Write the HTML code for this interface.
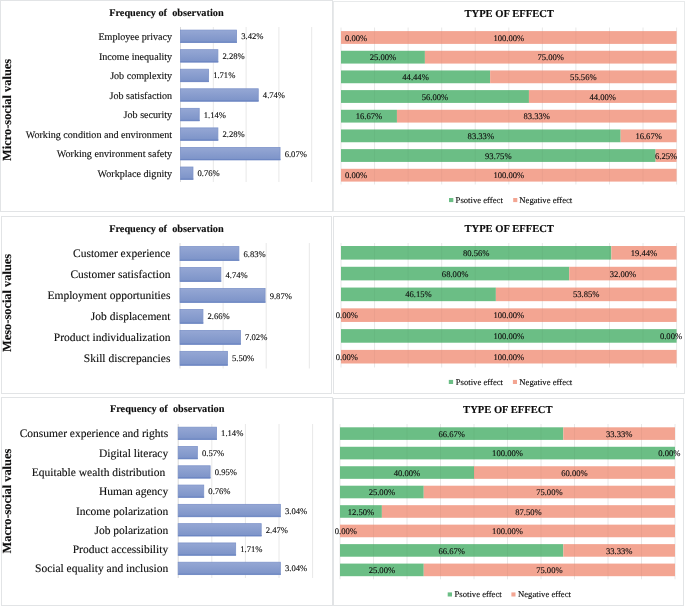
<!DOCTYPE html>
<html><head><meta charset="utf-8"><style>
html,body{margin:0;padding:0;background:#fff;}
body{width:685px;height:606px;position:relative;overflow:hidden;font-family:'Liberation Serif', serif;}
text{white-space:pre;}
svg{text-rendering:geometricPrecision;will-change:transform;}
text{stroke:#0d0d0d;stroke-width:0.12px;}
</style></head><body>
<svg width="685" height="606" viewBox="0 0 685 606" style="position:absolute;left:0;top:0;font-family:'Liberation Serif', serif"><defs><linearGradient id="bg" x1="0" y1="0" x2="0" y2="1"><stop offset="0" stop-color="#95a7d4"/><stop offset="1" stop-color="#7c93c8"/></linearGradient></defs><rect x="0" y="0" width="685" height="606" fill="#ffffff"/><rect x="0.5" y="0.5" width="332" height="211" fill="none" stroke="#e2e4e6" stroke-width="1"/><rect x="333.5" y="1.5" width="351" height="210" fill="none" stroke="#e8eaeb" stroke-width="1"/><rect x="1.5" y="216.5" width="330" height="177" fill="none" stroke="#e2e4e6" stroke-width="1"/><rect x="333.5" y="216.5" width="351" height="177" fill="none" stroke="#e2e4e6" stroke-width="1"/><rect x="1.5" y="397.5" width="331" height="208" fill="none" stroke="#e2e4e6" stroke-width="1"/><rect x="333.5" y="398.5" width="350" height="207" fill="none" stroke="#e2e4e6" stroke-width="1"/><text x="166.40" y="15.90" font-size="10.3" text-anchor="middle" font-weight="bold" fill="#0d0d0d" xml:space="preserve">Frequency of  observation</text><text x="0" y="0" font-size="12.4" text-anchor="middle" font-weight="bold" fill="#0d0d0d" transform="translate(11.00,109.90) rotate(-90)">Micro-social values</text><line x1="180.50" y1="27" x2="180.50" y2="182" stroke="#d9d9d9" stroke-width="1"/><line x1="213.30" y1="27" x2="213.30" y2="182" stroke="#e8e8e8" stroke-width="1"/><line x1="246.10" y1="27" x2="246.10" y2="182" stroke="#e8e8e8" stroke-width="1"/><line x1="278.90" y1="27" x2="278.90" y2="182" stroke="#e8e8e8" stroke-width="1"/><line x1="311.70" y1="27" x2="311.70" y2="182" stroke="#e8e8e8" stroke-width="1"/><rect x="180.50" y="30.10" width="56.09" height="12.5" fill="url(#bg)" stroke="#7d93c9" stroke-width="0.8"/><line x1="180.50" y1="42.10" x2="236.99" y2="42.10" stroke="#6c86c2" stroke-width="1"/><text x="172.10" y="39.95" font-size="10.1" text-anchor="end" font-weight="normal" fill="#0d0d0d" >Employee privacy</text><text x="241.19" y="39.35" font-size="8.6" text-anchor="start" font-weight="normal" fill="#0d0d0d" >3.42%</text><rect x="180.50" y="49.66" width="37.39" height="12.5" fill="url(#bg)" stroke="#7d93c9" stroke-width="0.8"/><line x1="180.50" y1="61.66" x2="218.29" y2="61.66" stroke="#6c86c2" stroke-width="1"/><text x="172.10" y="59.51" font-size="10.1" text-anchor="end" font-weight="normal" fill="#0d0d0d" >Income inequality</text><text x="222.49" y="58.91" font-size="8.6" text-anchor="start" font-weight="normal" fill="#0d0d0d" >2.28%</text><rect x="180.50" y="69.22" width="28.04" height="12.5" fill="url(#bg)" stroke="#7d93c9" stroke-width="0.8"/><line x1="180.50" y1="81.22" x2="208.94" y2="81.22" stroke="#6c86c2" stroke-width="1"/><text x="172.10" y="79.07" font-size="10.1" text-anchor="end" font-weight="normal" fill="#0d0d0d" >Job complexity</text><text x="213.14" y="78.47" font-size="8.6" text-anchor="start" font-weight="normal" fill="#0d0d0d" >1.71%</text><rect x="180.50" y="88.78" width="77.74" height="12.5" fill="url(#bg)" stroke="#7d93c9" stroke-width="0.8"/><line x1="180.50" y1="100.78" x2="258.64" y2="100.78" stroke="#6c86c2" stroke-width="1"/><text x="172.10" y="98.63" font-size="10.1" text-anchor="end" font-weight="normal" fill="#0d0d0d" >Job satisfaction</text><text x="262.84" y="98.03" font-size="8.6" text-anchor="start" font-weight="normal" fill="#0d0d0d" >4.74%</text><rect x="180.50" y="108.34" width="18.70" height="12.5" fill="url(#bg)" stroke="#7d93c9" stroke-width="0.8"/><line x1="180.50" y1="120.34" x2="199.60" y2="120.34" stroke="#6c86c2" stroke-width="1"/><text x="172.10" y="118.19" font-size="10.1" text-anchor="end" font-weight="normal" fill="#0d0d0d" >Job security</text><text x="203.80" y="117.59" font-size="8.6" text-anchor="start" font-weight="normal" fill="#0d0d0d" >1.14%</text><rect x="180.50" y="127.90" width="37.39" height="12.5" fill="url(#bg)" stroke="#7d93c9" stroke-width="0.8"/><line x1="180.50" y1="139.90" x2="218.29" y2="139.90" stroke="#6c86c2" stroke-width="1"/><text x="172.10" y="137.75" font-size="10.1" text-anchor="end" font-weight="normal" fill="#0d0d0d" >Working condition and environment</text><text x="222.49" y="137.15" font-size="8.6" text-anchor="start" font-weight="normal" fill="#0d0d0d" >2.28%</text><rect x="180.50" y="147.46" width="99.55" height="12.5" fill="url(#bg)" stroke="#7d93c9" stroke-width="0.8"/><line x1="180.50" y1="159.46" x2="280.45" y2="159.46" stroke="#6c86c2" stroke-width="1"/><text x="172.10" y="157.31" font-size="10.1" text-anchor="end" font-weight="normal" fill="#0d0d0d" >Working environment safety</text><text x="284.65" y="156.71" font-size="8.6" text-anchor="start" font-weight="normal" fill="#0d0d0d" >6.07%</text><rect x="180.50" y="167.02" width="12.46" height="12.5" fill="url(#bg)" stroke="#7d93c9" stroke-width="0.8"/><line x1="180.50" y1="179.02" x2="193.36" y2="179.02" stroke="#6c86c2" stroke-width="1"/><text x="172.10" y="176.87" font-size="10.1" text-anchor="end" font-weight="normal" fill="#0d0d0d" >Workplace dignity</text><text x="197.56" y="176.27" font-size="8.6" text-anchor="start" font-weight="normal" fill="#0d0d0d" >0.76%</text><text x="509.20" y="17.00" font-size="10.57" text-anchor="middle" font-weight="bold" fill="#0d0d0d" >TYPE OF EFFECT</text><line x1="341.00" y1="27.5" x2="341.00" y2="184.5" stroke="#e8e8e8" stroke-width="1"/><line x1="374.56" y1="27.5" x2="374.56" y2="184.5" stroke="#e8e8e8" stroke-width="1"/><line x1="408.12" y1="27.5" x2="408.12" y2="184.5" stroke="#e8e8e8" stroke-width="1"/><line x1="441.68" y1="27.5" x2="441.68" y2="184.5" stroke="#e8e8e8" stroke-width="1"/><line x1="475.24" y1="27.5" x2="475.24" y2="184.5" stroke="#e8e8e8" stroke-width="1"/><line x1="508.80" y1="27.5" x2="508.80" y2="184.5" stroke="#e8e8e8" stroke-width="1"/><line x1="542.36" y1="27.5" x2="542.36" y2="184.5" stroke="#e8e8e8" stroke-width="1"/><line x1="575.92" y1="27.5" x2="575.92" y2="184.5" stroke="#e8e8e8" stroke-width="1"/><line x1="609.48" y1="27.5" x2="609.48" y2="184.5" stroke="#e8e8e8" stroke-width="1"/><line x1="643.04" y1="27.5" x2="643.04" y2="184.5" stroke="#e8e8e8" stroke-width="1"/><line x1="676.60" y1="27.5" x2="676.60" y2="184.5" stroke="#e8e8e8" stroke-width="1"/><rect x="341.00" y="31.10" width="335.60" height="12.8" fill="#f3a592"/><rect x="341.00" y="50.77" width="83.90" height="12.8" fill="#6bbe85"/><rect x="424.90" y="50.77" width="251.70" height="12.8" fill="#f3a592"/><rect x="341.00" y="70.44" width="149.14" height="12.8" fill="#6bbe85"/><rect x="490.14" y="70.44" width="186.46" height="12.8" fill="#f3a592"/><rect x="341.00" y="90.11" width="187.94" height="12.8" fill="#6bbe85"/><rect x="528.94" y="90.11" width="147.66" height="12.8" fill="#f3a592"/><rect x="341.00" y="109.78" width="55.94" height="12.8" fill="#6bbe85"/><rect x="396.94" y="109.78" width="279.66" height="12.8" fill="#f3a592"/><rect x="341.00" y="129.45" width="279.66" height="12.8" fill="#6bbe85"/><rect x="620.66" y="129.45" width="55.94" height="12.8" fill="#f3a592"/><rect x="341.00" y="149.12" width="314.63" height="12.8" fill="#6bbe85"/><rect x="655.62" y="149.12" width="20.97" height="12.8" fill="#f3a592"/><rect x="341.00" y="168.79" width="335.60" height="12.8" fill="#f3a592"/><line x1="374.56" y1="31.10" x2="374.56" y2="43.90" stroke="rgba(0,0,0,0.035)" stroke-width="1"/><line x1="408.12" y1="31.10" x2="408.12" y2="43.90" stroke="rgba(0,0,0,0.035)" stroke-width="1"/><line x1="441.68" y1="31.10" x2="441.68" y2="43.90" stroke="rgba(0,0,0,0.035)" stroke-width="1"/><line x1="475.24" y1="31.10" x2="475.24" y2="43.90" stroke="rgba(0,0,0,0.035)" stroke-width="1"/><line x1="508.80" y1="31.10" x2="508.80" y2="43.90" stroke="rgba(0,0,0,0.035)" stroke-width="1"/><line x1="542.36" y1="31.10" x2="542.36" y2="43.90" stroke="rgba(0,0,0,0.035)" stroke-width="1"/><line x1="575.92" y1="31.10" x2="575.92" y2="43.90" stroke="rgba(0,0,0,0.035)" stroke-width="1"/><line x1="609.48" y1="31.10" x2="609.48" y2="43.90" stroke="rgba(0,0,0,0.035)" stroke-width="1"/><line x1="643.04" y1="31.10" x2="643.04" y2="43.90" stroke="rgba(0,0,0,0.035)" stroke-width="1"/><line x1="374.56" y1="50.77" x2="374.56" y2="63.57" stroke="rgba(0,0,0,0.035)" stroke-width="1"/><line x1="408.12" y1="50.77" x2="408.12" y2="63.57" stroke="rgba(0,0,0,0.035)" stroke-width="1"/><line x1="441.68" y1="50.77" x2="441.68" y2="63.57" stroke="rgba(0,0,0,0.035)" stroke-width="1"/><line x1="475.24" y1="50.77" x2="475.24" y2="63.57" stroke="rgba(0,0,0,0.035)" stroke-width="1"/><line x1="508.80" y1="50.77" x2="508.80" y2="63.57" stroke="rgba(0,0,0,0.035)" stroke-width="1"/><line x1="542.36" y1="50.77" x2="542.36" y2="63.57" stroke="rgba(0,0,0,0.035)" stroke-width="1"/><line x1="575.92" y1="50.77" x2="575.92" y2="63.57" stroke="rgba(0,0,0,0.035)" stroke-width="1"/><line x1="609.48" y1="50.77" x2="609.48" y2="63.57" stroke="rgba(0,0,0,0.035)" stroke-width="1"/><line x1="643.04" y1="50.77" x2="643.04" y2="63.57" stroke="rgba(0,0,0,0.035)" stroke-width="1"/><line x1="374.56" y1="70.44" x2="374.56" y2="83.24" stroke="rgba(0,0,0,0.035)" stroke-width="1"/><line x1="408.12" y1="70.44" x2="408.12" y2="83.24" stroke="rgba(0,0,0,0.035)" stroke-width="1"/><line x1="441.68" y1="70.44" x2="441.68" y2="83.24" stroke="rgba(0,0,0,0.035)" stroke-width="1"/><line x1="475.24" y1="70.44" x2="475.24" y2="83.24" stroke="rgba(0,0,0,0.035)" stroke-width="1"/><line x1="508.80" y1="70.44" x2="508.80" y2="83.24" stroke="rgba(0,0,0,0.035)" stroke-width="1"/><line x1="542.36" y1="70.44" x2="542.36" y2="83.24" stroke="rgba(0,0,0,0.035)" stroke-width="1"/><line x1="575.92" y1="70.44" x2="575.92" y2="83.24" stroke="rgba(0,0,0,0.035)" stroke-width="1"/><line x1="609.48" y1="70.44" x2="609.48" y2="83.24" stroke="rgba(0,0,0,0.035)" stroke-width="1"/><line x1="643.04" y1="70.44" x2="643.04" y2="83.24" stroke="rgba(0,0,0,0.035)" stroke-width="1"/><line x1="374.56" y1="90.11" x2="374.56" y2="102.91" stroke="rgba(0,0,0,0.035)" stroke-width="1"/><line x1="408.12" y1="90.11" x2="408.12" y2="102.91" stroke="rgba(0,0,0,0.035)" stroke-width="1"/><line x1="441.68" y1="90.11" x2="441.68" y2="102.91" stroke="rgba(0,0,0,0.035)" stroke-width="1"/><line x1="475.24" y1="90.11" x2="475.24" y2="102.91" stroke="rgba(0,0,0,0.035)" stroke-width="1"/><line x1="508.80" y1="90.11" x2="508.80" y2="102.91" stroke="rgba(0,0,0,0.035)" stroke-width="1"/><line x1="542.36" y1="90.11" x2="542.36" y2="102.91" stroke="rgba(0,0,0,0.035)" stroke-width="1"/><line x1="575.92" y1="90.11" x2="575.92" y2="102.91" stroke="rgba(0,0,0,0.035)" stroke-width="1"/><line x1="609.48" y1="90.11" x2="609.48" y2="102.91" stroke="rgba(0,0,0,0.035)" stroke-width="1"/><line x1="643.04" y1="90.11" x2="643.04" y2="102.91" stroke="rgba(0,0,0,0.035)" stroke-width="1"/><line x1="374.56" y1="109.78" x2="374.56" y2="122.58" stroke="rgba(0,0,0,0.035)" stroke-width="1"/><line x1="408.12" y1="109.78" x2="408.12" y2="122.58" stroke="rgba(0,0,0,0.035)" stroke-width="1"/><line x1="441.68" y1="109.78" x2="441.68" y2="122.58" stroke="rgba(0,0,0,0.035)" stroke-width="1"/><line x1="475.24" y1="109.78" x2="475.24" y2="122.58" stroke="rgba(0,0,0,0.035)" stroke-width="1"/><line x1="508.80" y1="109.78" x2="508.80" y2="122.58" stroke="rgba(0,0,0,0.035)" stroke-width="1"/><line x1="542.36" y1="109.78" x2="542.36" y2="122.58" stroke="rgba(0,0,0,0.035)" stroke-width="1"/><line x1="575.92" y1="109.78" x2="575.92" y2="122.58" stroke="rgba(0,0,0,0.035)" stroke-width="1"/><line x1="609.48" y1="109.78" x2="609.48" y2="122.58" stroke="rgba(0,0,0,0.035)" stroke-width="1"/><line x1="643.04" y1="109.78" x2="643.04" y2="122.58" stroke="rgba(0,0,0,0.035)" stroke-width="1"/><line x1="374.56" y1="129.45" x2="374.56" y2="142.25" stroke="rgba(0,0,0,0.035)" stroke-width="1"/><line x1="408.12" y1="129.45" x2="408.12" y2="142.25" stroke="rgba(0,0,0,0.035)" stroke-width="1"/><line x1="441.68" y1="129.45" x2="441.68" y2="142.25" stroke="rgba(0,0,0,0.035)" stroke-width="1"/><line x1="475.24" y1="129.45" x2="475.24" y2="142.25" stroke="rgba(0,0,0,0.035)" stroke-width="1"/><line x1="508.80" y1="129.45" x2="508.80" y2="142.25" stroke="rgba(0,0,0,0.035)" stroke-width="1"/><line x1="542.36" y1="129.45" x2="542.36" y2="142.25" stroke="rgba(0,0,0,0.035)" stroke-width="1"/><line x1="575.92" y1="129.45" x2="575.92" y2="142.25" stroke="rgba(0,0,0,0.035)" stroke-width="1"/><line x1="609.48" y1="129.45" x2="609.48" y2="142.25" stroke="rgba(0,0,0,0.035)" stroke-width="1"/><line x1="643.04" y1="129.45" x2="643.04" y2="142.25" stroke="rgba(0,0,0,0.035)" stroke-width="1"/><line x1="374.56" y1="149.12" x2="374.56" y2="161.92" stroke="rgba(0,0,0,0.035)" stroke-width="1"/><line x1="408.12" y1="149.12" x2="408.12" y2="161.92" stroke="rgba(0,0,0,0.035)" stroke-width="1"/><line x1="441.68" y1="149.12" x2="441.68" y2="161.92" stroke="rgba(0,0,0,0.035)" stroke-width="1"/><line x1="475.24" y1="149.12" x2="475.24" y2="161.92" stroke="rgba(0,0,0,0.035)" stroke-width="1"/><line x1="508.80" y1="149.12" x2="508.80" y2="161.92" stroke="rgba(0,0,0,0.035)" stroke-width="1"/><line x1="542.36" y1="149.12" x2="542.36" y2="161.92" stroke="rgba(0,0,0,0.035)" stroke-width="1"/><line x1="575.92" y1="149.12" x2="575.92" y2="161.92" stroke="rgba(0,0,0,0.035)" stroke-width="1"/><line x1="609.48" y1="149.12" x2="609.48" y2="161.92" stroke="rgba(0,0,0,0.035)" stroke-width="1"/><line x1="643.04" y1="149.12" x2="643.04" y2="161.92" stroke="rgba(0,0,0,0.035)" stroke-width="1"/><line x1="374.56" y1="168.79" x2="374.56" y2="181.59" stroke="rgba(0,0,0,0.035)" stroke-width="1"/><line x1="408.12" y1="168.79" x2="408.12" y2="181.59" stroke="rgba(0,0,0,0.035)" stroke-width="1"/><line x1="441.68" y1="168.79" x2="441.68" y2="181.59" stroke="rgba(0,0,0,0.035)" stroke-width="1"/><line x1="475.24" y1="168.79" x2="475.24" y2="181.59" stroke="rgba(0,0,0,0.035)" stroke-width="1"/><line x1="508.80" y1="168.79" x2="508.80" y2="181.59" stroke="rgba(0,0,0,0.035)" stroke-width="1"/><line x1="542.36" y1="168.79" x2="542.36" y2="181.59" stroke="rgba(0,0,0,0.035)" stroke-width="1"/><line x1="575.92" y1="168.79" x2="575.92" y2="181.59" stroke="rgba(0,0,0,0.035)" stroke-width="1"/><line x1="609.48" y1="168.79" x2="609.48" y2="181.59" stroke="rgba(0,0,0,0.035)" stroke-width="1"/><line x1="643.04" y1="168.79" x2="643.04" y2="181.59" stroke="rgba(0,0,0,0.035)" stroke-width="1"/><text x="345.00" y="40.60" font-size="8.6" text-anchor="start" font-weight="normal" fill="#0d0d0d" >0.00%</text><text x="508.80" y="40.60" font-size="8.6" text-anchor="middle" font-weight="normal" fill="#0d0d0d" >100.00%</text><text x="382.95" y="60.27" font-size="8.6" text-anchor="middle" font-weight="normal" fill="#0d0d0d" >25.00%</text><text x="550.75" y="60.27" font-size="8.6" text-anchor="middle" font-weight="normal" fill="#0d0d0d" >75.00%</text><text x="415.57" y="79.94" font-size="8.6" text-anchor="middle" font-weight="normal" fill="#0d0d0d" >44.44%</text><text x="583.37" y="79.94" font-size="8.6" text-anchor="middle" font-weight="normal" fill="#0d0d0d" >55.56%</text><text x="434.97" y="99.61" font-size="8.6" text-anchor="middle" font-weight="normal" fill="#0d0d0d" >56.00%</text><text x="602.77" y="99.61" font-size="8.6" text-anchor="middle" font-weight="normal" fill="#0d0d0d" >44.00%</text><text x="368.97" y="119.28" font-size="8.6" text-anchor="middle" font-weight="normal" fill="#0d0d0d" >16.67%</text><text x="536.77" y="119.28" font-size="8.6" text-anchor="middle" font-weight="normal" fill="#0d0d0d" >83.33%</text><text x="480.83" y="138.95" font-size="8.6" text-anchor="middle" font-weight="normal" fill="#0d0d0d" >83.33%</text><text x="648.63" y="138.95" font-size="8.6" text-anchor="middle" font-weight="normal" fill="#0d0d0d" >16.67%</text><text x="498.31" y="158.62" font-size="8.6" text-anchor="middle" font-weight="normal" fill="#0d0d0d" >93.75%</text><text x="666.11" y="158.62" font-size="8.6" text-anchor="middle" font-weight="normal" fill="#0d0d0d" >6.25%</text><text x="345.00" y="178.29" font-size="8.6" text-anchor="start" font-weight="normal" fill="#0d0d0d" >0.00%</text><text x="508.80" y="178.29" font-size="8.6" text-anchor="middle" font-weight="normal" fill="#0d0d0d" >100.00%</text><rect x="449" y="198" width="4.3" height="4.1" fill="#6bbe85"/><text x="455.60" y="202.80" font-size="8.67" text-anchor="start" font-weight="normal" fill="#0d0d0d" >Psotive effect</text><rect x="513.2" y="198" width="4.1" height="4.1" fill="#f3a592"/><text x="519.30" y="202.80" font-size="8.67" text-anchor="start" font-weight="normal" fill="#0d0d0d" >Negative effect</text><text x="166.40" y="231.80" font-size="10.3" text-anchor="middle" font-weight="bold" fill="#0d0d0d" xml:space="preserve">Frequency of  observation</text><text x="0" y="0" font-size="12.4" text-anchor="middle" font-weight="bold" fill="#0d0d0d" transform="translate(11.00,302.90) rotate(-90)">Meso-social values</text><line x1="180.00" y1="243" x2="180.00" y2="368.5" stroke="#d9d9d9" stroke-width="1"/><line x1="223.10" y1="243" x2="223.10" y2="368.5" stroke="#e8e8e8" stroke-width="1"/><line x1="266.20" y1="243" x2="266.20" y2="368.5" stroke="#e8e8e8" stroke-width="1"/><line x1="309.30" y1="243" x2="309.30" y2="368.5" stroke="#e8e8e8" stroke-width="1"/><rect x="180.00" y="246.60" width="58.87" height="14" fill="url(#bg)" stroke="#7d93c9" stroke-width="0.8"/><line x1="180.00" y1="260.10" x2="239.27" y2="260.10" stroke="#6c86c2" stroke-width="1"/><text x="170.40" y="257.00" font-size="11.5" text-anchor="end" font-weight="normal" fill="#0d0d0d" >Customer experience</text><text x="243.47" y="256.60" font-size="8.6" text-anchor="start" font-weight="normal" fill="#0d0d0d" >6.83%</text><rect x="180.00" y="267.55" width="40.86" height="14" fill="url(#bg)" stroke="#7d93c9" stroke-width="0.8"/><line x1="180.00" y1="281.05" x2="221.26" y2="281.05" stroke="#6c86c2" stroke-width="1"/><text x="170.40" y="277.95" font-size="11.5" text-anchor="end" font-weight="normal" fill="#0d0d0d" >Customer satisfaction</text><text x="225.46" y="277.55" font-size="8.6" text-anchor="start" font-weight="normal" fill="#0d0d0d" >4.74%</text><rect x="180.00" y="288.50" width="85.08" height="14" fill="url(#bg)" stroke="#7d93c9" stroke-width="0.8"/><line x1="180.00" y1="302.00" x2="265.48" y2="302.00" stroke="#6c86c2" stroke-width="1"/><text x="170.40" y="298.90" font-size="11.5" text-anchor="end" font-weight="normal" fill="#0d0d0d" >Employment opportunities</text><text x="269.68" y="298.50" font-size="8.6" text-anchor="start" font-weight="normal" fill="#0d0d0d" >9.87%</text><rect x="180.00" y="309.45" width="22.93" height="14" fill="url(#bg)" stroke="#7d93c9" stroke-width="0.8"/><line x1="180.00" y1="322.95" x2="203.33" y2="322.95" stroke="#6c86c2" stroke-width="1"/><text x="170.40" y="319.85" font-size="11.5" text-anchor="end" font-weight="normal" fill="#0d0d0d" >Job displacement</text><text x="207.53" y="319.45" font-size="8.6" text-anchor="start" font-weight="normal" fill="#0d0d0d" >2.66%</text><rect x="180.00" y="330.40" width="60.51" height="14" fill="url(#bg)" stroke="#7d93c9" stroke-width="0.8"/><line x1="180.00" y1="343.90" x2="240.91" y2="343.90" stroke="#6c86c2" stroke-width="1"/><text x="170.40" y="340.80" font-size="11.5" text-anchor="end" font-weight="normal" fill="#0d0d0d" >Product individualization</text><text x="245.11" y="340.40" font-size="8.6" text-anchor="start" font-weight="normal" fill="#0d0d0d" >7.02%</text><rect x="180.00" y="351.35" width="47.41" height="14" fill="url(#bg)" stroke="#7d93c9" stroke-width="0.8"/><line x1="180.00" y1="364.85" x2="227.81" y2="364.85" stroke="#6c86c2" stroke-width="1"/><text x="170.40" y="361.75" font-size="11.5" text-anchor="end" font-weight="normal" fill="#0d0d0d" >Skill discrepancies</text><text x="232.01" y="361.35" font-size="8.6" text-anchor="start" font-weight="normal" fill="#0d0d0d" >5.50%</text><text x="509.20" y="232.00" font-size="10.57" text-anchor="middle" font-weight="bold" fill="#0d0d0d" >TYPE OF EFFECT</text><line x1="341.00" y1="243" x2="341.00" y2="367.5" stroke="#e8e8e8" stroke-width="1"/><line x1="374.56" y1="243" x2="374.56" y2="367.5" stroke="#e8e8e8" stroke-width="1"/><line x1="408.12" y1="243" x2="408.12" y2="367.5" stroke="#e8e8e8" stroke-width="1"/><line x1="441.68" y1="243" x2="441.68" y2="367.5" stroke="#e8e8e8" stroke-width="1"/><line x1="475.24" y1="243" x2="475.24" y2="367.5" stroke="#e8e8e8" stroke-width="1"/><line x1="508.80" y1="243" x2="508.80" y2="367.5" stroke="#e8e8e8" stroke-width="1"/><line x1="542.36" y1="243" x2="542.36" y2="367.5" stroke="#e8e8e8" stroke-width="1"/><line x1="575.92" y1="243" x2="575.92" y2="367.5" stroke="#e8e8e8" stroke-width="1"/><line x1="609.48" y1="243" x2="609.48" y2="367.5" stroke="#e8e8e8" stroke-width="1"/><line x1="643.04" y1="243" x2="643.04" y2="367.5" stroke="#e8e8e8" stroke-width="1"/><line x1="676.60" y1="243" x2="676.60" y2="367.5" stroke="#e8e8e8" stroke-width="1"/><rect x="341.00" y="246.00" width="270.36" height="13.6" fill="#6bbe85"/><rect x="611.36" y="246.00" width="65.24" height="13.6" fill="#f3a592"/><rect x="341.00" y="266.78" width="228.21" height="13.6" fill="#6bbe85"/><rect x="569.21" y="266.78" width="107.39" height="13.6" fill="#f3a592"/><rect x="341.00" y="287.56" width="154.88" height="13.6" fill="#6bbe85"/><rect x="495.88" y="287.56" width="180.72" height="13.6" fill="#f3a592"/><rect x="341.00" y="308.34" width="335.60" height="13.6" fill="#f3a592"/><rect x="341.00" y="329.12" width="335.60" height="13.6" fill="#6bbe85"/><rect x="341.00" y="349.90" width="335.60" height="13.6" fill="#f3a592"/><line x1="374.56" y1="246.00" x2="374.56" y2="259.60" stroke="rgba(0,0,0,0.035)" stroke-width="1"/><line x1="408.12" y1="246.00" x2="408.12" y2="259.60" stroke="rgba(0,0,0,0.035)" stroke-width="1"/><line x1="441.68" y1="246.00" x2="441.68" y2="259.60" stroke="rgba(0,0,0,0.035)" stroke-width="1"/><line x1="475.24" y1="246.00" x2="475.24" y2="259.60" stroke="rgba(0,0,0,0.035)" stroke-width="1"/><line x1="508.80" y1="246.00" x2="508.80" y2="259.60" stroke="rgba(0,0,0,0.035)" stroke-width="1"/><line x1="542.36" y1="246.00" x2="542.36" y2="259.60" stroke="rgba(0,0,0,0.035)" stroke-width="1"/><line x1="575.92" y1="246.00" x2="575.92" y2="259.60" stroke="rgba(0,0,0,0.035)" stroke-width="1"/><line x1="609.48" y1="246.00" x2="609.48" y2="259.60" stroke="rgba(0,0,0,0.035)" stroke-width="1"/><line x1="643.04" y1="246.00" x2="643.04" y2="259.60" stroke="rgba(0,0,0,0.035)" stroke-width="1"/><line x1="374.56" y1="266.78" x2="374.56" y2="280.38" stroke="rgba(0,0,0,0.035)" stroke-width="1"/><line x1="408.12" y1="266.78" x2="408.12" y2="280.38" stroke="rgba(0,0,0,0.035)" stroke-width="1"/><line x1="441.68" y1="266.78" x2="441.68" y2="280.38" stroke="rgba(0,0,0,0.035)" stroke-width="1"/><line x1="475.24" y1="266.78" x2="475.24" y2="280.38" stroke="rgba(0,0,0,0.035)" stroke-width="1"/><line x1="508.80" y1="266.78" x2="508.80" y2="280.38" stroke="rgba(0,0,0,0.035)" stroke-width="1"/><line x1="542.36" y1="266.78" x2="542.36" y2="280.38" stroke="rgba(0,0,0,0.035)" stroke-width="1"/><line x1="575.92" y1="266.78" x2="575.92" y2="280.38" stroke="rgba(0,0,0,0.035)" stroke-width="1"/><line x1="609.48" y1="266.78" x2="609.48" y2="280.38" stroke="rgba(0,0,0,0.035)" stroke-width="1"/><line x1="643.04" y1="266.78" x2="643.04" y2="280.38" stroke="rgba(0,0,0,0.035)" stroke-width="1"/><line x1="374.56" y1="287.56" x2="374.56" y2="301.16" stroke="rgba(0,0,0,0.035)" stroke-width="1"/><line x1="408.12" y1="287.56" x2="408.12" y2="301.16" stroke="rgba(0,0,0,0.035)" stroke-width="1"/><line x1="441.68" y1="287.56" x2="441.68" y2="301.16" stroke="rgba(0,0,0,0.035)" stroke-width="1"/><line x1="475.24" y1="287.56" x2="475.24" y2="301.16" stroke="rgba(0,0,0,0.035)" stroke-width="1"/><line x1="508.80" y1="287.56" x2="508.80" y2="301.16" stroke="rgba(0,0,0,0.035)" stroke-width="1"/><line x1="542.36" y1="287.56" x2="542.36" y2="301.16" stroke="rgba(0,0,0,0.035)" stroke-width="1"/><line x1="575.92" y1="287.56" x2="575.92" y2="301.16" stroke="rgba(0,0,0,0.035)" stroke-width="1"/><line x1="609.48" y1="287.56" x2="609.48" y2="301.16" stroke="rgba(0,0,0,0.035)" stroke-width="1"/><line x1="643.04" y1="287.56" x2="643.04" y2="301.16" stroke="rgba(0,0,0,0.035)" stroke-width="1"/><line x1="374.56" y1="308.34" x2="374.56" y2="321.94" stroke="rgba(0,0,0,0.035)" stroke-width="1"/><line x1="408.12" y1="308.34" x2="408.12" y2="321.94" stroke="rgba(0,0,0,0.035)" stroke-width="1"/><line x1="441.68" y1="308.34" x2="441.68" y2="321.94" stroke="rgba(0,0,0,0.035)" stroke-width="1"/><line x1="475.24" y1="308.34" x2="475.24" y2="321.94" stroke="rgba(0,0,0,0.035)" stroke-width="1"/><line x1="508.80" y1="308.34" x2="508.80" y2="321.94" stroke="rgba(0,0,0,0.035)" stroke-width="1"/><line x1="542.36" y1="308.34" x2="542.36" y2="321.94" stroke="rgba(0,0,0,0.035)" stroke-width="1"/><line x1="575.92" y1="308.34" x2="575.92" y2="321.94" stroke="rgba(0,0,0,0.035)" stroke-width="1"/><line x1="609.48" y1="308.34" x2="609.48" y2="321.94" stroke="rgba(0,0,0,0.035)" stroke-width="1"/><line x1="643.04" y1="308.34" x2="643.04" y2="321.94" stroke="rgba(0,0,0,0.035)" stroke-width="1"/><line x1="374.56" y1="329.12" x2="374.56" y2="342.72" stroke="rgba(0,0,0,0.035)" stroke-width="1"/><line x1="408.12" y1="329.12" x2="408.12" y2="342.72" stroke="rgba(0,0,0,0.035)" stroke-width="1"/><line x1="441.68" y1="329.12" x2="441.68" y2="342.72" stroke="rgba(0,0,0,0.035)" stroke-width="1"/><line x1="475.24" y1="329.12" x2="475.24" y2="342.72" stroke="rgba(0,0,0,0.035)" stroke-width="1"/><line x1="508.80" y1="329.12" x2="508.80" y2="342.72" stroke="rgba(0,0,0,0.035)" stroke-width="1"/><line x1="542.36" y1="329.12" x2="542.36" y2="342.72" stroke="rgba(0,0,0,0.035)" stroke-width="1"/><line x1="575.92" y1="329.12" x2="575.92" y2="342.72" stroke="rgba(0,0,0,0.035)" stroke-width="1"/><line x1="609.48" y1="329.12" x2="609.48" y2="342.72" stroke="rgba(0,0,0,0.035)" stroke-width="1"/><line x1="643.04" y1="329.12" x2="643.04" y2="342.72" stroke="rgba(0,0,0,0.035)" stroke-width="1"/><line x1="374.56" y1="349.90" x2="374.56" y2="363.50" stroke="rgba(0,0,0,0.035)" stroke-width="1"/><line x1="408.12" y1="349.90" x2="408.12" y2="363.50" stroke="rgba(0,0,0,0.035)" stroke-width="1"/><line x1="441.68" y1="349.90" x2="441.68" y2="363.50" stroke="rgba(0,0,0,0.035)" stroke-width="1"/><line x1="475.24" y1="349.90" x2="475.24" y2="363.50" stroke="rgba(0,0,0,0.035)" stroke-width="1"/><line x1="508.80" y1="349.90" x2="508.80" y2="363.50" stroke="rgba(0,0,0,0.035)" stroke-width="1"/><line x1="542.36" y1="349.90" x2="542.36" y2="363.50" stroke="rgba(0,0,0,0.035)" stroke-width="1"/><line x1="575.92" y1="349.90" x2="575.92" y2="363.50" stroke="rgba(0,0,0,0.035)" stroke-width="1"/><line x1="609.48" y1="349.90" x2="609.48" y2="363.50" stroke="rgba(0,0,0,0.035)" stroke-width="1"/><line x1="643.04" y1="349.90" x2="643.04" y2="363.50" stroke="rgba(0,0,0,0.035)" stroke-width="1"/><text x="476.18" y="255.90" font-size="8.6" text-anchor="middle" font-weight="normal" fill="#0d0d0d" >80.56%</text><text x="643.98" y="255.90" font-size="8.6" text-anchor="middle" font-weight="normal" fill="#0d0d0d" >19.44%</text><text x="455.10" y="276.68" font-size="8.6" text-anchor="middle" font-weight="normal" fill="#0d0d0d" >68.00%</text><text x="622.90" y="276.68" font-size="8.6" text-anchor="middle" font-weight="normal" fill="#0d0d0d" >32.00%</text><text x="418.44" y="297.46" font-size="8.6" text-anchor="middle" font-weight="normal" fill="#0d0d0d" >46.15%</text><text x="586.24" y="297.46" font-size="8.6" text-anchor="middle" font-weight="normal" fill="#0d0d0d" >53.85%</text><text x="346.80" y="318.24" font-size="8.6" text-anchor="middle" font-weight="normal" fill="#0d0d0d" >0.00%</text><text x="508.80" y="318.24" font-size="8.6" text-anchor="middle" font-weight="normal" fill="#0d0d0d" >100.00%</text><text x="508.80" y="339.02" font-size="8.6" text-anchor="middle" font-weight="normal" fill="#0d0d0d" >100.00%</text><text x="671.00" y="339.02" font-size="8.6" text-anchor="middle" font-weight="normal" fill="#0d0d0d" >0.00%</text><text x="346.80" y="359.80" font-size="8.6" text-anchor="middle" font-weight="normal" fill="#0d0d0d" >0.00%</text><text x="508.80" y="359.80" font-size="8.6" text-anchor="middle" font-weight="normal" fill="#0d0d0d" >100.00%</text><rect x="448.8" y="379.9" width="4.3" height="4.1" fill="#6bbe85"/><text x="455.80" y="384.90" font-size="8.67" text-anchor="start" font-weight="normal" fill="#0d0d0d" >Psotive effect</text><rect x="512.9" y="379.9" width="4.1" height="4.1" fill="#f3a592"/><text x="519.30" y="384.90" font-size="8.67" text-anchor="start" font-weight="normal" fill="#0d0d0d" >Negative effect</text><text x="167.20" y="412.40" font-size="10.3" text-anchor="middle" font-weight="bold" fill="#0d0d0d" xml:space="preserve">Frequency of  observation</text><text x="0" y="0" font-size="12.4" text-anchor="middle" font-weight="bold" fill="#0d0d0d" transform="translate(11.00,501.10) rotate(-90)">Macro-social values</text><line x1="178.20" y1="424" x2="178.20" y2="578" stroke="#d9d9d9" stroke-width="1"/><line x1="211.80" y1="424" x2="211.80" y2="578" stroke="#e8e8e8" stroke-width="1"/><line x1="245.40" y1="424" x2="245.40" y2="578" stroke="#e8e8e8" stroke-width="1"/><line x1="279.00" y1="424" x2="279.00" y2="578" stroke="#e8e8e8" stroke-width="1"/><line x1="312.60" y1="424" x2="312.60" y2="578" stroke="#e8e8e8" stroke-width="1"/><rect x="178.20" y="427.20" width="38.30" height="12.4" fill="url(#bg)" stroke="#7d93c9" stroke-width="0.8"/><line x1="178.20" y1="439.10" x2="216.90" y2="439.10" stroke="#6c86c2" stroke-width="1"/><text x="168.20" y="437.40" font-size="11.5" text-anchor="end" font-weight="normal" fill="#0d0d0d" >Consumer experience and rights</text><text x="221.10" y="436.40" font-size="8.6" text-anchor="start" font-weight="normal" fill="#0d0d0d" >1.14%</text><rect x="178.20" y="446.49" width="19.15" height="12.4" fill="url(#bg)" stroke="#7d93c9" stroke-width="0.8"/><line x1="178.20" y1="458.39" x2="197.75" y2="458.39" stroke="#6c86c2" stroke-width="1"/><text x="168.20" y="456.69" font-size="11.5" text-anchor="end" font-weight="normal" fill="#0d0d0d" >Digital literacy</text><text x="201.95" y="455.69" font-size="8.6" text-anchor="start" font-weight="normal" fill="#0d0d0d" >0.57%</text><rect x="178.20" y="465.78" width="31.92" height="12.4" fill="url(#bg)" stroke="#7d93c9" stroke-width="0.8"/><line x1="178.20" y1="477.68" x2="210.52" y2="477.68" stroke="#6c86c2" stroke-width="1"/><text x="168.20" y="475.98" font-size="11.5" text-anchor="end" font-weight="normal" fill="#0d0d0d" >Equitable wealth distribution </text><text x="214.72" y="474.98" font-size="8.6" text-anchor="start" font-weight="normal" fill="#0d0d0d" >0.95%</text><rect x="178.20" y="485.07" width="25.54" height="12.4" fill="url(#bg)" stroke="#7d93c9" stroke-width="0.8"/><line x1="178.20" y1="496.97" x2="204.14" y2="496.97" stroke="#6c86c2" stroke-width="1"/><text x="168.20" y="495.27" font-size="11.5" text-anchor="end" font-weight="normal" fill="#0d0d0d" >Human agency</text><text x="208.34" y="494.27" font-size="8.6" text-anchor="start" font-weight="normal" fill="#0d0d0d" >0.76%</text><rect x="178.20" y="504.36" width="102.14" height="12.4" fill="url(#bg)" stroke="#7d93c9" stroke-width="0.8"/><line x1="178.20" y1="516.26" x2="280.74" y2="516.26" stroke="#6c86c2" stroke-width="1"/><text x="168.20" y="514.56" font-size="11.5" text-anchor="end" font-weight="normal" fill="#0d0d0d" >Income polarization</text><text x="284.94" y="513.56" font-size="8.6" text-anchor="start" font-weight="normal" fill="#0d0d0d" >3.04%</text><rect x="178.20" y="523.65" width="82.99" height="12.4" fill="url(#bg)" stroke="#7d93c9" stroke-width="0.8"/><line x1="178.20" y1="535.55" x2="261.59" y2="535.55" stroke="#6c86c2" stroke-width="1"/><text x="168.20" y="533.85" font-size="11.5" text-anchor="end" font-weight="normal" fill="#0d0d0d" >Job polarization</text><text x="265.79" y="532.85" font-size="8.6" text-anchor="start" font-weight="normal" fill="#0d0d0d" >2.47%</text><rect x="178.20" y="542.94" width="57.46" height="12.4" fill="url(#bg)" stroke="#7d93c9" stroke-width="0.8"/><line x1="178.20" y1="554.84" x2="236.06" y2="554.84" stroke="#6c86c2" stroke-width="1"/><text x="168.20" y="553.14" font-size="11.5" text-anchor="end" font-weight="normal" fill="#0d0d0d" >Product accessibility</text><text x="240.26" y="552.14" font-size="8.6" text-anchor="start" font-weight="normal" fill="#0d0d0d" >1.71%</text><rect x="178.20" y="562.23" width="102.14" height="12.4" fill="url(#bg)" stroke="#7d93c9" stroke-width="0.8"/><line x1="178.20" y1="574.13" x2="280.74" y2="574.13" stroke="#6c86c2" stroke-width="1"/><text x="168.20" y="572.43" font-size="11.5" text-anchor="end" font-weight="normal" fill="#0d0d0d" >Social equality and inclusion</text><text x="284.94" y="571.43" font-size="8.6" text-anchor="start" font-weight="normal" fill="#0d0d0d" >3.04%</text><text x="507.80" y="413.00" font-size="10.57" text-anchor="middle" font-weight="bold" fill="#0d0d0d" >TYPE OF EFFECT</text><line x1="340.00" y1="424" x2="340.00" y2="579.3" stroke="#e8e8e8" stroke-width="1"/><line x1="373.50" y1="424" x2="373.50" y2="579.3" stroke="#e8e8e8" stroke-width="1"/><line x1="407.00" y1="424" x2="407.00" y2="579.3" stroke="#e8e8e8" stroke-width="1"/><line x1="440.50" y1="424" x2="440.50" y2="579.3" stroke="#e8e8e8" stroke-width="1"/><line x1="474.00" y1="424" x2="474.00" y2="579.3" stroke="#e8e8e8" stroke-width="1"/><line x1="507.50" y1="424" x2="507.50" y2="579.3" stroke="#e8e8e8" stroke-width="1"/><line x1="541.00" y1="424" x2="541.00" y2="579.3" stroke="#e8e8e8" stroke-width="1"/><line x1="574.50" y1="424" x2="574.50" y2="579.3" stroke="#e8e8e8" stroke-width="1"/><line x1="608.00" y1="424" x2="608.00" y2="579.3" stroke="#e8e8e8" stroke-width="1"/><line x1="641.50" y1="424" x2="641.50" y2="579.3" stroke="#e8e8e8" stroke-width="1"/><line x1="675.00" y1="424" x2="675.00" y2="579.3" stroke="#e8e8e8" stroke-width="1"/><rect x="340.00" y="427.30" width="223.34" height="12.6" fill="#6bbe85"/><rect x="563.34" y="427.30" width="111.66" height="12.6" fill="#f3a592"/><rect x="340.00" y="446.77" width="335.00" height="12.6" fill="#6bbe85"/><rect x="340.00" y="466.24" width="134.00" height="12.6" fill="#6bbe85"/><rect x="474.00" y="466.24" width="201.00" height="12.6" fill="#f3a592"/><rect x="340.00" y="485.71" width="83.75" height="12.6" fill="#6bbe85"/><rect x="423.75" y="485.71" width="251.25" height="12.6" fill="#f3a592"/><rect x="340.00" y="505.18" width="41.88" height="12.6" fill="#6bbe85"/><rect x="381.88" y="505.18" width="293.12" height="12.6" fill="#f3a592"/><rect x="340.00" y="524.65" width="335.00" height="12.6" fill="#f3a592"/><rect x="340.00" y="544.12" width="223.34" height="12.6" fill="#6bbe85"/><rect x="563.34" y="544.12" width="111.66" height="12.6" fill="#f3a592"/><rect x="340.00" y="563.59" width="83.75" height="12.6" fill="#6bbe85"/><rect x="423.75" y="563.59" width="251.25" height="12.6" fill="#f3a592"/><line x1="373.50" y1="427.30" x2="373.50" y2="439.90" stroke="rgba(0,0,0,0.035)" stroke-width="1"/><line x1="407.00" y1="427.30" x2="407.00" y2="439.90" stroke="rgba(0,0,0,0.035)" stroke-width="1"/><line x1="440.50" y1="427.30" x2="440.50" y2="439.90" stroke="rgba(0,0,0,0.035)" stroke-width="1"/><line x1="474.00" y1="427.30" x2="474.00" y2="439.90" stroke="rgba(0,0,0,0.035)" stroke-width="1"/><line x1="507.50" y1="427.30" x2="507.50" y2="439.90" stroke="rgba(0,0,0,0.035)" stroke-width="1"/><line x1="541.00" y1="427.30" x2="541.00" y2="439.90" stroke="rgba(0,0,0,0.035)" stroke-width="1"/><line x1="574.50" y1="427.30" x2="574.50" y2="439.90" stroke="rgba(0,0,0,0.035)" stroke-width="1"/><line x1="608.00" y1="427.30" x2="608.00" y2="439.90" stroke="rgba(0,0,0,0.035)" stroke-width="1"/><line x1="641.50" y1="427.30" x2="641.50" y2="439.90" stroke="rgba(0,0,0,0.035)" stroke-width="1"/><line x1="373.50" y1="446.77" x2="373.50" y2="459.37" stroke="rgba(0,0,0,0.035)" stroke-width="1"/><line x1="407.00" y1="446.77" x2="407.00" y2="459.37" stroke="rgba(0,0,0,0.035)" stroke-width="1"/><line x1="440.50" y1="446.77" x2="440.50" y2="459.37" stroke="rgba(0,0,0,0.035)" stroke-width="1"/><line x1="474.00" y1="446.77" x2="474.00" y2="459.37" stroke="rgba(0,0,0,0.035)" stroke-width="1"/><line x1="507.50" y1="446.77" x2="507.50" y2="459.37" stroke="rgba(0,0,0,0.035)" stroke-width="1"/><line x1="541.00" y1="446.77" x2="541.00" y2="459.37" stroke="rgba(0,0,0,0.035)" stroke-width="1"/><line x1="574.50" y1="446.77" x2="574.50" y2="459.37" stroke="rgba(0,0,0,0.035)" stroke-width="1"/><line x1="608.00" y1="446.77" x2="608.00" y2="459.37" stroke="rgba(0,0,0,0.035)" stroke-width="1"/><line x1="641.50" y1="446.77" x2="641.50" y2="459.37" stroke="rgba(0,0,0,0.035)" stroke-width="1"/><line x1="373.50" y1="466.24" x2="373.50" y2="478.84" stroke="rgba(0,0,0,0.035)" stroke-width="1"/><line x1="407.00" y1="466.24" x2="407.00" y2="478.84" stroke="rgba(0,0,0,0.035)" stroke-width="1"/><line x1="440.50" y1="466.24" x2="440.50" y2="478.84" stroke="rgba(0,0,0,0.035)" stroke-width="1"/><line x1="474.00" y1="466.24" x2="474.00" y2="478.84" stroke="rgba(0,0,0,0.035)" stroke-width="1"/><line x1="507.50" y1="466.24" x2="507.50" y2="478.84" stroke="rgba(0,0,0,0.035)" stroke-width="1"/><line x1="541.00" y1="466.24" x2="541.00" y2="478.84" stroke="rgba(0,0,0,0.035)" stroke-width="1"/><line x1="574.50" y1="466.24" x2="574.50" y2="478.84" stroke="rgba(0,0,0,0.035)" stroke-width="1"/><line x1="608.00" y1="466.24" x2="608.00" y2="478.84" stroke="rgba(0,0,0,0.035)" stroke-width="1"/><line x1="641.50" y1="466.24" x2="641.50" y2="478.84" stroke="rgba(0,0,0,0.035)" stroke-width="1"/><line x1="373.50" y1="485.71" x2="373.50" y2="498.31" stroke="rgba(0,0,0,0.035)" stroke-width="1"/><line x1="407.00" y1="485.71" x2="407.00" y2="498.31" stroke="rgba(0,0,0,0.035)" stroke-width="1"/><line x1="440.50" y1="485.71" x2="440.50" y2="498.31" stroke="rgba(0,0,0,0.035)" stroke-width="1"/><line x1="474.00" y1="485.71" x2="474.00" y2="498.31" stroke="rgba(0,0,0,0.035)" stroke-width="1"/><line x1="507.50" y1="485.71" x2="507.50" y2="498.31" stroke="rgba(0,0,0,0.035)" stroke-width="1"/><line x1="541.00" y1="485.71" x2="541.00" y2="498.31" stroke="rgba(0,0,0,0.035)" stroke-width="1"/><line x1="574.50" y1="485.71" x2="574.50" y2="498.31" stroke="rgba(0,0,0,0.035)" stroke-width="1"/><line x1="608.00" y1="485.71" x2="608.00" y2="498.31" stroke="rgba(0,0,0,0.035)" stroke-width="1"/><line x1="641.50" y1="485.71" x2="641.50" y2="498.31" stroke="rgba(0,0,0,0.035)" stroke-width="1"/><line x1="373.50" y1="505.18" x2="373.50" y2="517.78" stroke="rgba(0,0,0,0.035)" stroke-width="1"/><line x1="407.00" y1="505.18" x2="407.00" y2="517.78" stroke="rgba(0,0,0,0.035)" stroke-width="1"/><line x1="440.50" y1="505.18" x2="440.50" y2="517.78" stroke="rgba(0,0,0,0.035)" stroke-width="1"/><line x1="474.00" y1="505.18" x2="474.00" y2="517.78" stroke="rgba(0,0,0,0.035)" stroke-width="1"/><line x1="507.50" y1="505.18" x2="507.50" y2="517.78" stroke="rgba(0,0,0,0.035)" stroke-width="1"/><line x1="541.00" y1="505.18" x2="541.00" y2="517.78" stroke="rgba(0,0,0,0.035)" stroke-width="1"/><line x1="574.50" y1="505.18" x2="574.50" y2="517.78" stroke="rgba(0,0,0,0.035)" stroke-width="1"/><line x1="608.00" y1="505.18" x2="608.00" y2="517.78" stroke="rgba(0,0,0,0.035)" stroke-width="1"/><line x1="641.50" y1="505.18" x2="641.50" y2="517.78" stroke="rgba(0,0,0,0.035)" stroke-width="1"/><line x1="373.50" y1="524.65" x2="373.50" y2="537.25" stroke="rgba(0,0,0,0.035)" stroke-width="1"/><line x1="407.00" y1="524.65" x2="407.00" y2="537.25" stroke="rgba(0,0,0,0.035)" stroke-width="1"/><line x1="440.50" y1="524.65" x2="440.50" y2="537.25" stroke="rgba(0,0,0,0.035)" stroke-width="1"/><line x1="474.00" y1="524.65" x2="474.00" y2="537.25" stroke="rgba(0,0,0,0.035)" stroke-width="1"/><line x1="507.50" y1="524.65" x2="507.50" y2="537.25" stroke="rgba(0,0,0,0.035)" stroke-width="1"/><line x1="541.00" y1="524.65" x2="541.00" y2="537.25" stroke="rgba(0,0,0,0.035)" stroke-width="1"/><line x1="574.50" y1="524.65" x2="574.50" y2="537.25" stroke="rgba(0,0,0,0.035)" stroke-width="1"/><line x1="608.00" y1="524.65" x2="608.00" y2="537.25" stroke="rgba(0,0,0,0.035)" stroke-width="1"/><line x1="641.50" y1="524.65" x2="641.50" y2="537.25" stroke="rgba(0,0,0,0.035)" stroke-width="1"/><line x1="373.50" y1="544.12" x2="373.50" y2="556.72" stroke="rgba(0,0,0,0.035)" stroke-width="1"/><line x1="407.00" y1="544.12" x2="407.00" y2="556.72" stroke="rgba(0,0,0,0.035)" stroke-width="1"/><line x1="440.50" y1="544.12" x2="440.50" y2="556.72" stroke="rgba(0,0,0,0.035)" stroke-width="1"/><line x1="474.00" y1="544.12" x2="474.00" y2="556.72" stroke="rgba(0,0,0,0.035)" stroke-width="1"/><line x1="507.50" y1="544.12" x2="507.50" y2="556.72" stroke="rgba(0,0,0,0.035)" stroke-width="1"/><line x1="541.00" y1="544.12" x2="541.00" y2="556.72" stroke="rgba(0,0,0,0.035)" stroke-width="1"/><line x1="574.50" y1="544.12" x2="574.50" y2="556.72" stroke="rgba(0,0,0,0.035)" stroke-width="1"/><line x1="608.00" y1="544.12" x2="608.00" y2="556.72" stroke="rgba(0,0,0,0.035)" stroke-width="1"/><line x1="641.50" y1="544.12" x2="641.50" y2="556.72" stroke="rgba(0,0,0,0.035)" stroke-width="1"/><line x1="373.50" y1="563.59" x2="373.50" y2="576.19" stroke="rgba(0,0,0,0.035)" stroke-width="1"/><line x1="407.00" y1="563.59" x2="407.00" y2="576.19" stroke="rgba(0,0,0,0.035)" stroke-width="1"/><line x1="440.50" y1="563.59" x2="440.50" y2="576.19" stroke="rgba(0,0,0,0.035)" stroke-width="1"/><line x1="474.00" y1="563.59" x2="474.00" y2="576.19" stroke="rgba(0,0,0,0.035)" stroke-width="1"/><line x1="507.50" y1="563.59" x2="507.50" y2="576.19" stroke="rgba(0,0,0,0.035)" stroke-width="1"/><line x1="541.00" y1="563.59" x2="541.00" y2="576.19" stroke="rgba(0,0,0,0.035)" stroke-width="1"/><line x1="574.50" y1="563.59" x2="574.50" y2="576.19" stroke="rgba(0,0,0,0.035)" stroke-width="1"/><line x1="608.00" y1="563.59" x2="608.00" y2="576.19" stroke="rgba(0,0,0,0.035)" stroke-width="1"/><line x1="641.50" y1="563.59" x2="641.50" y2="576.19" stroke="rgba(0,0,0,0.035)" stroke-width="1"/><text x="451.67" y="436.70" font-size="8.6" text-anchor="middle" font-weight="normal" fill="#0d0d0d" >66.67%</text><text x="619.17" y="436.70" font-size="8.6" text-anchor="middle" font-weight="normal" fill="#0d0d0d" >33.33%</text><text x="507.50" y="456.17" font-size="8.6" text-anchor="middle" font-weight="normal" fill="#0d0d0d" >100.00%</text><text x="669.40" y="456.17" font-size="8.6" text-anchor="middle" font-weight="normal" fill="#0d0d0d" >0.00%</text><text x="407.00" y="475.64" font-size="8.6" text-anchor="middle" font-weight="normal" fill="#0d0d0d" >40.00%</text><text x="574.50" y="475.64" font-size="8.6" text-anchor="middle" font-weight="normal" fill="#0d0d0d" >60.00%</text><text x="381.88" y="495.11" font-size="8.6" text-anchor="middle" font-weight="normal" fill="#0d0d0d" >25.00%</text><text x="549.38" y="495.11" font-size="8.6" text-anchor="middle" font-weight="normal" fill="#0d0d0d" >75.00%</text><text x="360.94" y="514.58" font-size="8.6" text-anchor="middle" font-weight="normal" fill="#0d0d0d" >12.50%</text><text x="528.44" y="514.58" font-size="8.6" text-anchor="middle" font-weight="normal" fill="#0d0d0d" >87.50%</text><text x="345.80" y="534.05" font-size="8.6" text-anchor="middle" font-weight="normal" fill="#0d0d0d" >0.00%</text><text x="507.50" y="534.05" font-size="8.6" text-anchor="middle" font-weight="normal" fill="#0d0d0d" >100.00%</text><text x="451.67" y="553.52" font-size="8.6" text-anchor="middle" font-weight="normal" fill="#0d0d0d" >66.67%</text><text x="619.17" y="553.52" font-size="8.6" text-anchor="middle" font-weight="normal" fill="#0d0d0d" >33.33%</text><text x="381.88" y="572.99" font-size="8.6" text-anchor="middle" font-weight="normal" fill="#0d0d0d" >25.00%</text><text x="549.38" y="572.99" font-size="8.6" text-anchor="middle" font-weight="normal" fill="#0d0d0d" >75.00%</text><rect x="447.7" y="592.4" width="4.3" height="4.1" fill="#6bbe85"/><text x="454.50" y="597.40" font-size="8.67" text-anchor="start" font-weight="normal" fill="#0d0d0d" >Psotive effect</text><rect x="511.4" y="592.4" width="4.1" height="4.1" fill="#f3a592"/><text x="518.00" y="597.40" font-size="8.67" text-anchor="start" font-weight="normal" fill="#0d0d0d" >Negative effect</text></svg>
</body></html>
